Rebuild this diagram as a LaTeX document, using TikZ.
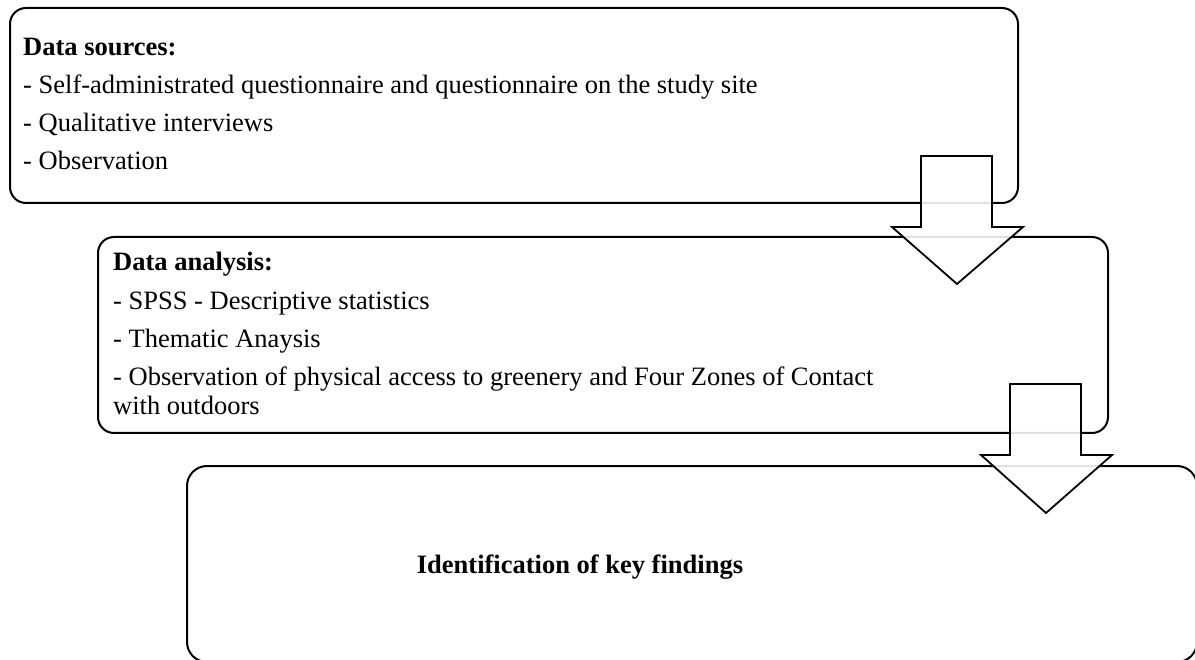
\documentclass[tikz,border=0pt]{standalone}
\usepackage{fontspec}
\setmainfont{Liberation Serif}
\begin{document}
\begin{tikzpicture}[x=1pt,y=-1pt,
  panel/.style={draw=black, line width=2pt, rounded corners=16pt, fill=white},
  line/.style={anchor=base west, inner sep=0pt, font=\fontsize{26.5}{30.5}\selectfont},
  heading/.style={line, font=\fontsize{26.5}{30.5}\selectfont\bfseries},
  downarrow/.style={draw=black, line width=1.8pt, fill=white, fill opacity=0.88, line join=miter}
]
\useasboundingbox (0,0) rectangle (1195,660);
\clip (0,0) rectangle (1195,660);

% three stage panels
\draw[panel] (10,8) rectangle (1018,203);
\coordinate (srcNW) at (10,8);
\draw[panel] (98,237) rectangle (1108,433);
\draw[panel, rounded corners=20pt] (187,466) rectangle (1197,662);

% stage 1: data sources
\node[heading] (s0) at (23,56) {Data sources:};
\node[line] (s1) at (23,94) {- Self-administrated questionnaire and questionnaire on the study site};
\node[line] (s2) at (23,132) {- Qualitative interviews};
\node[line] (s3) at (23,170) {- Observation};

% stage 2: data analysis
\node[heading] (a0) at (113,271) {Data analysis:};
\node[line] (a1) at (113,310) {- SPSS - Descriptive statistics};
\node[line] (a2) at (113,348) {- Thematic Anaysis};
\node[line] (a3) at (113,386) {- Observation of physical access to greenery and Four Zones of Contact};
\node[line] (a4) at (113,414) {with outdoors};

% stage 3: findings
\node[heading, anchor=base] (f0) at (580,573) {Identification of key findings};

% block arrows linking the stages
\draw[downarrow] (921,156) -- (992,156) -- (992,227) -- (1023,227) -- (957,284)
  -- (892,227) -- (921,227) -- cycle;
\draw[downarrow] (1010,384) -- (1081,384) -- (1081,455) -- (1112,455) -- (1046,513)
  -- (981,455) -- (1010,455) -- cycle;
\end{tikzpicture}
\end{document}
